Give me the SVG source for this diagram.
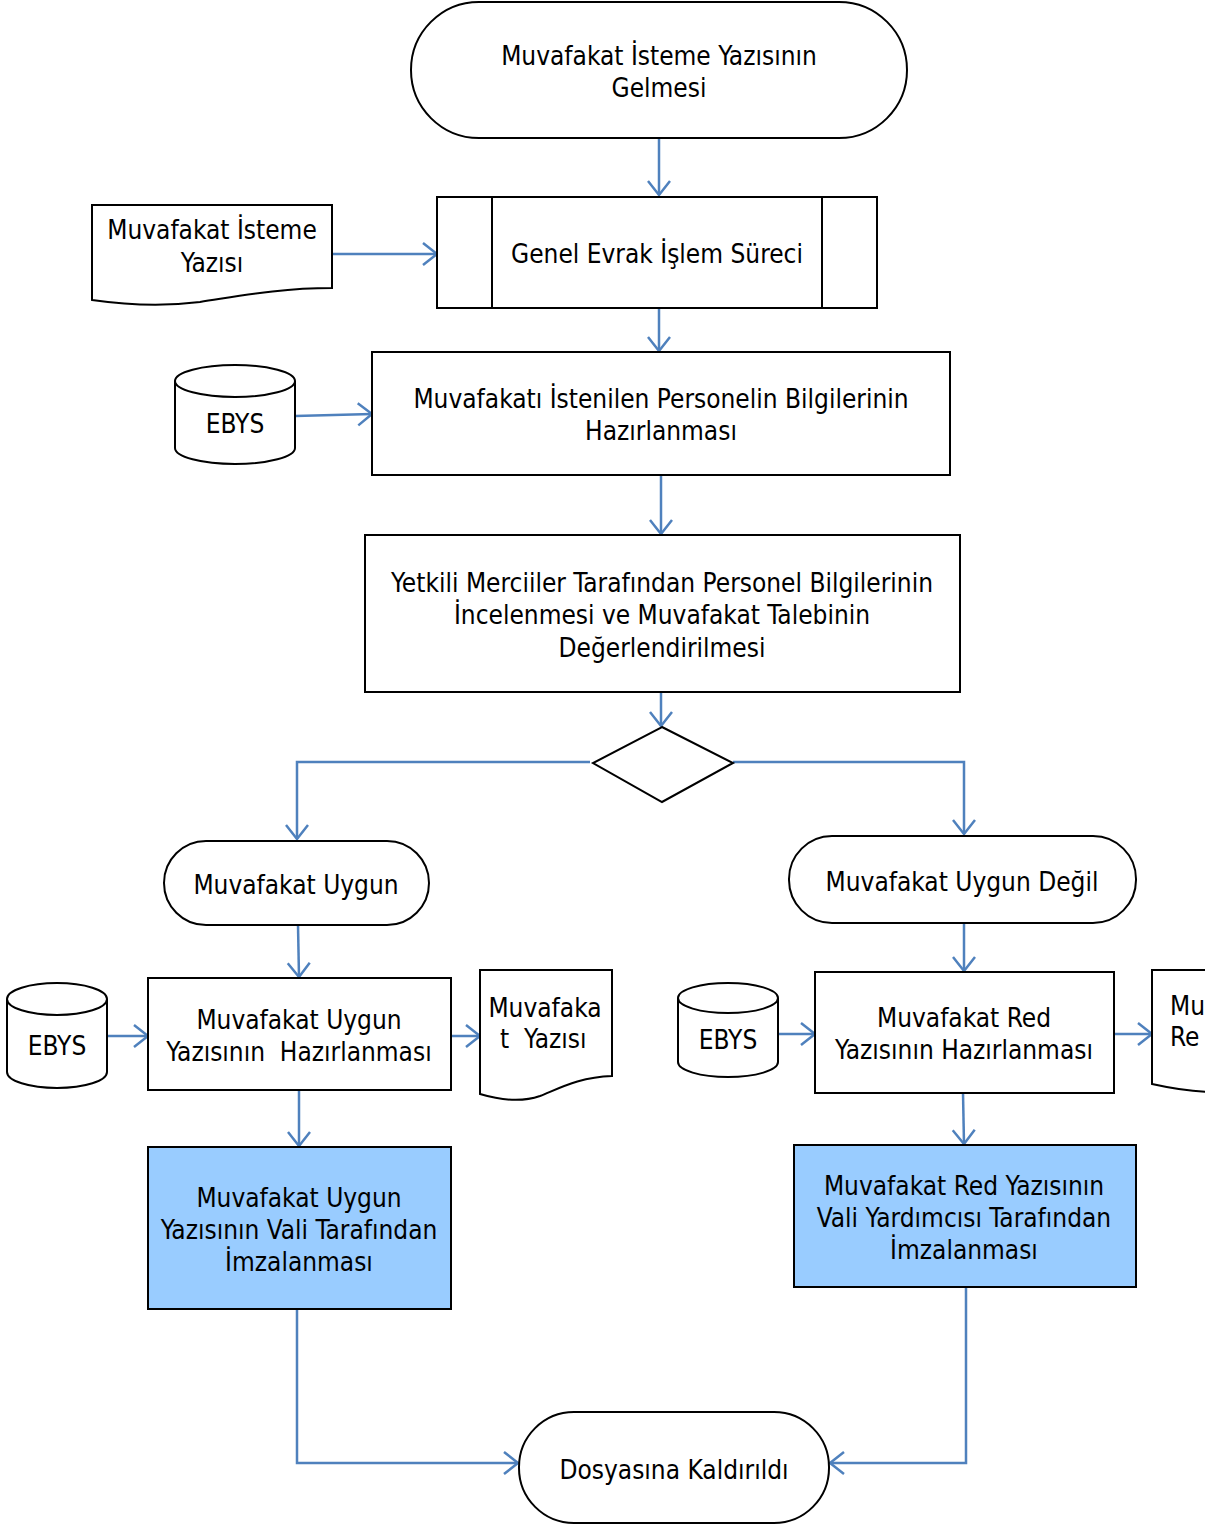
<svg xmlns="http://www.w3.org/2000/svg" width="1205" height="1525" viewBox="0 0 1205 1525">
<style>
.s{fill:#fff;stroke:#000;stroke-width:2}
.b{fill:#99CCFF;stroke:#000;stroke-width:2}
.t{font-family:"DejaVu Sans Condensed","DejaVu Sans",sans-serif;font-size:26px;fill:#000;text-anchor:middle}
.c{fill:none;stroke:#4F81BD;stroke-width:2.5;marker-end:url(#a)}
</style>
<defs>
<marker id="a" markerWidth="28" markerHeight="28" refX="22" refY="12" orient="auto" markerUnits="userSpaceOnUse">
<path d="M8,1 L22,12 L8,23" fill="none" stroke="#4F81BD" stroke-width="2.5"/>
</marker>
</defs>
<rect width="1205" height="1525" fill="#fff"/>
<g id="connectors">
<path class="c" d="M659,138 L659,195"/>
<path class="c" d="M332,254 L437,254"/>
<path class="c" d="M659,308 L659,351"/>
<path class="c" d="M295,416 L372,414"/>
<path class="c" d="M661,475 L661,534"/>
<path class="c" d="M661,692 L661,726"/>
<path class="c" d="M590,762 L297,762 L297,839"/>
<path class="c" d="M733,762 L964,762 L964,834"/>
<path class="c" d="M298,925 L299,977"/>
<path class="c" d="M107,1036 L148,1036"/>
<path class="c" d="M451,1036 L480,1036"/>
<path class="c" d="M299,1090 L299,1146"/>
<path class="c" d="M964,923 L964,971"/>
<path class="c" d="M778,1034 L815,1034"/>
<path class="c" d="M1114,1034 L1152,1034"/>
<path class="c" d="M963,1093 L964,1144"/>
<path class="c" d="M297,1309 L297,1463 L518,1463"/>
<path class="c" d="M966,1287 L966,1463 L830,1463"/>
</g>
<g id="start">
<rect class="s" x="411" y="2" width="496" height="136" rx="68" ry="68"/>
<text class="t" x="659" y="65">Muvafakat İsteme Yazısının</text>
<text class="t" x="659" y="97">Gelmesi</text>
</g>
<g id="genel">
<rect class="s" x="437" y="197" width="440" height="111"/>
<line class="s" x1="492" y1="197" x2="492" y2="308"/>
<line class="s" x1="822" y1="197" x2="822" y2="308"/>
<text class="t" x="657" y="263">Genel Evrak İşlem Süreci</text>
</g>
<g id="doc1">
<path class="s" d="M92,205 L332,205 L332,288 C280,288 240,296 200,302 C160,307 120,304 92,300 Z"/>
<text class="t" x="212" y="239">Muvafakat İsteme</text>
<text class="t" x="212" y="272">Yazısı</text>
</g>
<g id="ebys1">
<path class="s" d="M175,381 L175,448 A60,16 0 0 0 295,448 L295,381 A60,16 0 0 0 175,381 Z"/>
<path class="s" d="M175,381 A60,16 0 0 0 295,381" fill="none"/>
<text class="t" x="235" y="433">EBYS</text>
</g>
<g id="hazir">
<rect class="s" x="372" y="352" width="578" height="123"/>
<text class="t" x="661" y="408">Muvafakatı İstenilen Personelin Bilgilerinin</text>
<text class="t" x="661" y="440">Hazırlanması</text>
</g>
<g id="yetkili">
<rect class="s" x="365" y="535" width="595" height="157"/>
<text class="t" x="662" y="592">Yetkili Merciiler Tarafından Personel Bilgilerinin</text>
<text class="t" x="662" y="624">İncelenmesi ve Muvafakat Talebinin</text>
<text class="t" x="662" y="657">Değerlendirilmesi</text>
</g>
<g id="decision">
<path class="s" d="M662,727 L733,763 L662,802 L593,763 Z"/>
</g>
<g id="uygun">
<rect class="s" x="164" y="841" width="265" height="84" rx="42" ry="42"/>
<text class="t" x="296" y="894">Muvafakat Uygun</text>
</g>
<g id="uygundegil">
<rect class="s" x="789" y="836" width="347" height="87" rx="43" ry="43"/>
<text class="t" x="962" y="891">Muvafakat Uygun Değil</text>
</g>
<g id="ebys2">
<path class="s" d="M7,999 L7,1072 A50,16 0 0 0 107,1072 L107,999 A50,16 0 0 0 7,999 Z"/>
<path class="s" d="M7,999 A50,16 0 0 0 107,999" fill="none"/>
<text class="t" x="57" y="1055">EBYS</text>
</g>
<g id="uygunyazi">
<rect class="s" x="148" y="978" width="303" height="112"/>
<text class="t" x="299" y="1029">Muvafakat Uygun</text>
<text class="t" x="299" y="1061" xml:space="preserve">Yazısının  Hazırlanması</text>
</g>
<g id="doc2">
<path class="s" d="M480,970 L612,970 L612,1076 C580,1077 560,1088 540,1096 C520,1103 500,1100 480,1094 Z"/>
<text class="t" x="545" y="1017">Muvafaka</text>
<text class="t" x="500" y="1048" style="text-anchor:start" xml:space="preserve">t  Yazısı</text>
</g>
<g id="uygunimza">
<rect class="b" x="148" y="1147" width="303" height="162"/>
<text class="t" x="299" y="1207">Muvafakat Uygun</text>
<text class="t" x="299" y="1239">Yazısının Vali Tarafından</text>
<text class="t" x="299" y="1271">İmzalanması</text>
</g>
<g id="ebys3">
<path class="s" d="M678,998 L678,1062 A50,15 0 0 0 778,1062 L778,998 A50,15 0 0 0 678,998 Z"/>
<path class="s" d="M678,998 A50,15 0 0 0 778,998" fill="none"/>
<text class="t" x="728" y="1049">EBYS</text>
</g>
<g id="redyazi">
<rect class="s" x="815" y="972" width="299" height="121"/>
<text class="t" x="964" y="1027">Muvafakat Red</text>
<text class="t" x="964" y="1059">Yazısının Hazırlanması</text>
</g>
<g id="doc3">
<path class="s" d="M1152,970 L1215,970 L1215,1092 C1190,1092 1170,1088 1152,1084 Z"/>
<text class="t" x="1170" y="1015" style="text-anchor:start">Mu</text>
<text class="t" x="1170" y="1046" style="text-anchor:start">Re</text>
</g>
<g id="redimza">
<rect class="b" x="794" y="1145" width="342" height="142"/>
<text class="t" x="964" y="1195">Muvafakat Red Yazısının</text>
<text class="t" x="964" y="1227">Vali Yardımcısı Tarafından</text>
<text class="t" x="964" y="1259">İmzalanması</text>
</g>
<g id="end">
<rect class="s" x="519" y="1412" width="310" height="111" rx="55" ry="55"/>
<text class="t" x="674" y="1479">Dosyasına Kaldırıldı</text>
</g>
</svg>
